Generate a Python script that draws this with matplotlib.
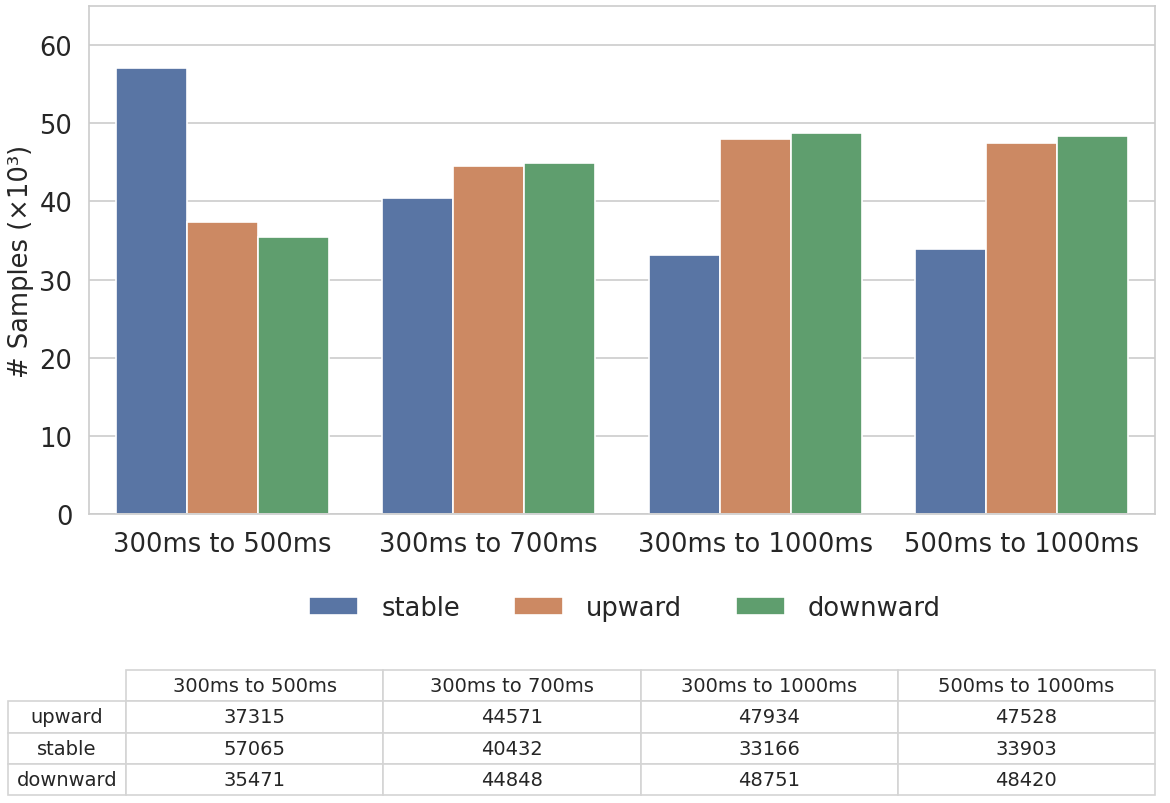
import matplotlib
matplotlib.use('Agg')
import matplotlib.pyplot as plt
import numpy as np
import seaborn as sns

# data
ranges = ['300ms to 500ms', '300ms to 700ms', '300ms to 1000ms', '500ms to 1000ms']
trends = ['stable', 'upward', 'downward']
stable = [57065, 40432, 33166, 33903]
upward = [37315, 44571, 47934, 47528]
downward = [35471, 44848, 48751, 48420]
table_rows = ['upward', 'stable', 'downward']

sns.set_theme(style='whitegrid')
plt.rcParams['font.family'] = ['DejaVu Sans']

colors = [sns.desaturate(c, 0.75) for c in sns.color_palette('deep')[:3]]

fig = plt.figure(figsize=(11.7, 8.04), dpi=100)
ax = fig.add_axes([89 / 1170, 1 - 515 / 804, 1066 / 1170, 508 / 804])

x = np.arange(len(ranges))
w = 0.8 / 3
series = {'stable': stable, 'upward': upward, 'downward': downward}
for k, name in enumerate(trends):
    vals = np.array(series[name]) / 1000
    ax.bar(x + (k - 1) * w, vals, width=w, color=colors[k], edgecolor='white',
           linewidth=1.2, label=name, zorder=2)

ax.set_xlim(-0.5, 3.5)
ax.set_ylim(0, 65)
ax.set_yticks(range(0, 61, 10))
ax.set_xticks(x)
ax.set_xticklabels(ranges)
ax.tick_params(axis='both', labelsize=18.5, colors='#262626', pad=6)
ax.grid(axis='x', visible=False)
ax.grid(axis='y', color='#cccccc', linewidth=1.2, zorder=0)
ax.set_axisbelow(True)
for s in ax.spines.values():
    s.set_color('#cccccc')
    s.set_linewidth(1.2)
ax.set_ylabel('# Samples (×10³)', fontsize=18.5, color='#262626')

fig.legend(loc='center', bbox_to_anchor=(625 / 1170, 1 - 609 / 804), ncol=3,
           frameon=False, fontsize=18.5, handlelength=1.9, handleheight=0.7,
           handletextpad=0.9, columnspacing=2.1)

# table
tax = fig.add_axes([8 / 1170, 1 - 796 / 804, 1147 / 1170, 125 / 804])
tax.axis('off')
cells = [[''] + ranges]
for name in table_rows:
    cells.append([name] + [str(v) for v in series[name]])
lab_w = 118 / 1147
col_w = (1 - lab_w) / 4
tbl = tax.table(cellText=cells, colWidths=[lab_w] + [col_w] * 4,
                cellLoc='center', bbox=[0, 0, 1, 1])
tbl.auto_set_font_size(False)
tbl.set_fontsize(14)
for (r, c), cell in tbl.get_celld().items():
    cell.set_edgecolor('#d4d4d4')
    cell.set_linewidth(1.2)
    cell.get_text().set_color('#262626')
    if r == 0 and c == 0:
        cell.visible_edges = ''

fig.savefig('out.png', dpi=100)
